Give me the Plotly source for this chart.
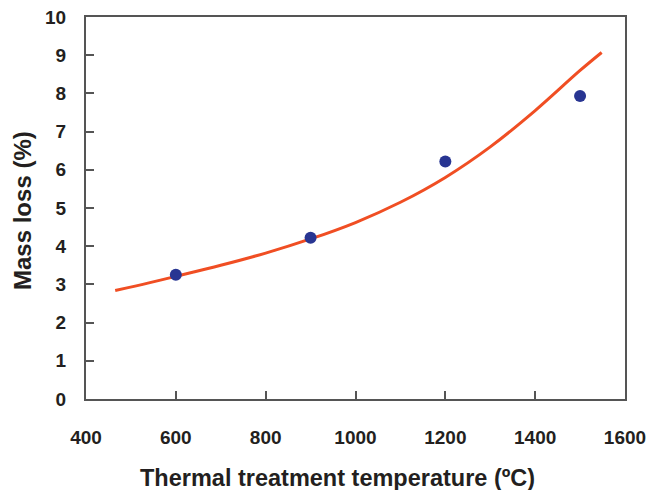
import plotly.graph_objects as go

# Measured data points
temps = [600, 900, 1200, 1500]
mass_loss = [3.25, 4.22, 6.22, 7.93]

# Fitted trend curve
curve_temps = [465, 540, 600, 700, 800, 900, 1000, 1100, 1200, 1300, 1400, 1500, 1548]
curve_vals = [2.84, 3.04, 3.21, 3.50, 3.82, 4.19, 4.62, 5.15, 5.80, 6.60, 7.55, 8.60, 9.07]

x_ticks = [400, 600, 800, 1000, 1200, 1400, 1600]
y_ticks = list(range(0, 11))

font_family = "Liberation Sans, Arial, sans-serif"
text_color = "#231F20"
axis_color = "#555555"

fig = go.Figure()
fig.add_trace(go.Scatter(
    x=curve_temps, y=curve_vals, mode="lines",
    line=dict(color="#F04E23", width=3, shape="spline", smoothing=1),
    showlegend=False, hoverinfo="skip"))
fig.add_trace(go.Scatter(
    x=temps, y=mass_loss, mode="markers",
    marker=dict(color="#283592", size=12),
    showlegend=False))

fig.update_layout(
    width=647, height=490,
    margin=dict(l=86, r=22, t=17, b=91, autoexpand=False),
    paper_bgcolor="white", plot_bgcolor="white",
    font=dict(family=font_family, color=text_color),
    xaxis=dict(
        range=[400, 1600], tickvals=x_ticks, ticks="inside", ticklen=8,
        tickcolor=axis_color, tickwidth=1.5, automargin=False,
        showline=True, linecolor=axis_color, linewidth=2, mirror=True,
        showgrid=False, zeroline=False, ticklabeloverflow="allow",
        tickfont=dict(size=19, family=font_family, color=text_color, weight="bold"),
        ticklabelstandoff=20,
    ),
    yaxis=dict(
        range=[0, 10], tickvals=y_ticks, ticks="inside", ticklen=8,
        tickcolor=axis_color, tickwidth=1.5, automargin=False,
        showline=True, linecolor=axis_color, linewidth=2, mirror=True,
        showgrid=False, zeroline=False, ticklabeloverflow="allow",
        tickfont=dict(size=19, family=font_family, color=text_color, weight="bold"),
        ticklabelstandoff=14,
    ),
    annotations=[
        dict(text="<b>Thermal treatment temperature (ºC)</b>", xref="paper", yref="paper",
             x=0.4675, y=0, yshift=-79, xanchor="center", yanchor="middle",
             showarrow=False, font=dict(size=23.5, family=font_family, color=text_color)),
        dict(text="<b>Mass loss (%)</b>", xref="paper", yref="paper",
             x=0, y=0.5, xshift=-64, yshift=-3, xanchor="center", yanchor="middle",
             textangle=-90,
             showarrow=False, font=dict(size=24, family=font_family, color=text_color)),
    ],
)

fig.write_html(
    "out.html",
    config={"displayModeBar": False},
    post_script="document.body.style.margin='0px';document.body.style.overflow='hidden';",
)
